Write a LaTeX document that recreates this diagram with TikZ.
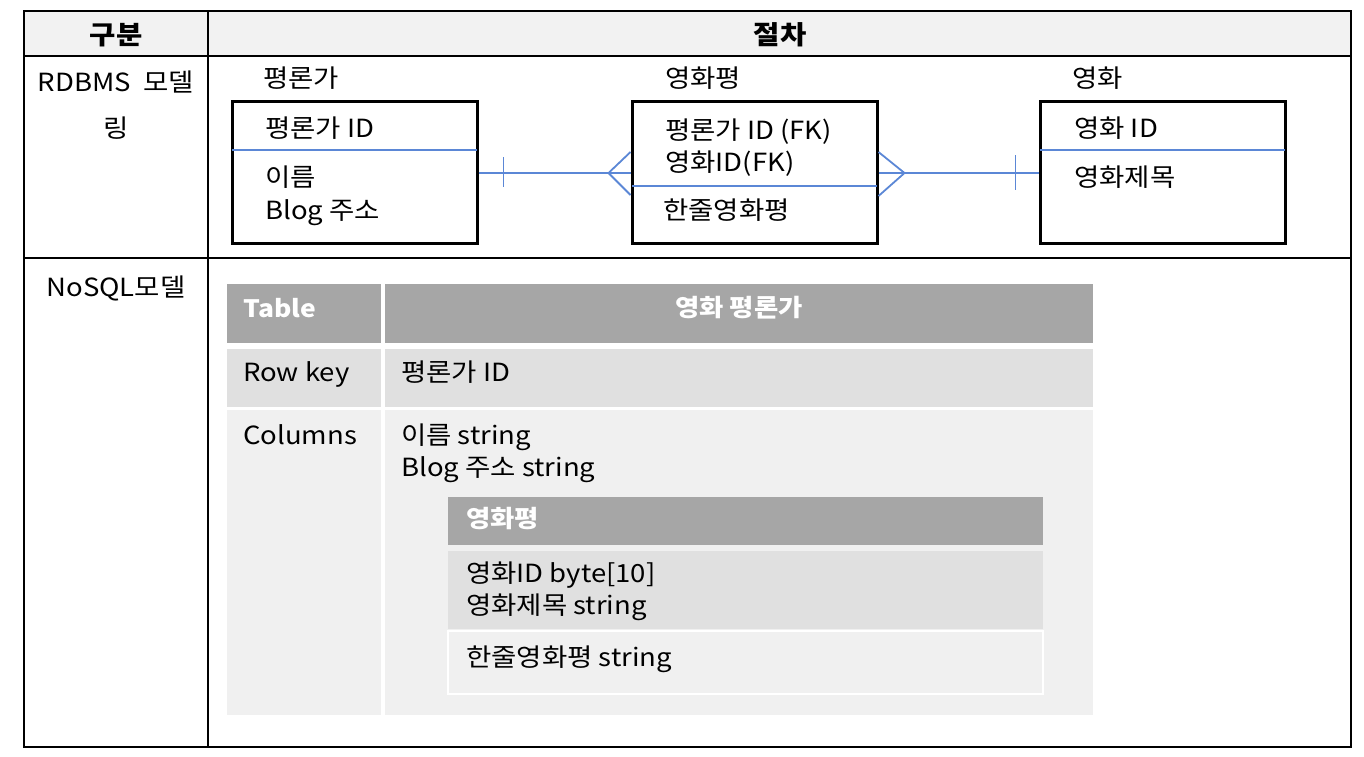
\documentclass[tikz,border=0pt]{standalone}
\usepackage{fontspec}
\setmainfont[FakeStretch=1.1]{Noto Sans CJK KR}
\usetikzlibrary{calc}
\definecolor{hdr}{HTML}{F2F2F2}
\definecolor{darkcell}{HTML}{A6A6A6}
\definecolor{midcell}{HTML}{E0E0E0}
\definecolor{litecell}{HTML}{F0F0F0}
\definecolor{erblue}{HTML}{5B87D6}
\begin{document}
\begin{tikzpicture}[x=1pt,y=-1pt,
  txt/.style={anchor=base west, inner sep=0pt, font=\fontsize{25}{30}\selectfont},
  ctxt/.style={anchor=base, inner sep=0pt, font=\fontsize{25}{30}\selectfont},
  hd/.style={anchor=base, inner sep=0pt, font=\fontsize{26}{30}\selectfont\bfseries},
  wh/.style={inner sep=0pt, text=white, font=\fontsize{24}{30}\selectfont\bfseries},
  erbox/.style={draw=black, line width=3pt, minimum width=245pt, minimum height=142pt, inner sep=0pt},
  rel/.style={draw=erblue, line width=1.8pt},
  grid/.style={draw=black, line width=2pt}]
\useasboundingbox (0,0) rectangle (1364,756);
\fill[white] (0,0) rectangle (1364,756);
% ---- outer table
\fill[hdr] (24,11) rectangle (1351,56);
\draw[grid] (24,11) rectangle (1351,747);
\draw[grid] (24,56) -- (1351,56);
\draw[grid] (24,258) -- (1351,258);
\draw[grid] (208,11) -- (208,747);
\node[hd] (h1) at (116,44) {구분};
\node[hd] (h2) at (780,44) {절차};
\node[ctxt] (r1a) at (116,91) {RDBMS\hspace{0.5em}모델};
\node[ctxt] (r1b) at (116,137) {링};
\node[ctxt] (r2) at (116,296) {NoSQL모델};
% ---- RDBMS model
\node[txt] (l1) at (263,87) {평론가};
\node[txt] (l2) at (665,87) {영화평};
\node[txt] (l3) at (1072,87) {영화};
\node[erbox] (b1) at (354.5,172) {};
\node[erbox] (b2) at (754.5,172.5) {};
\node[erbox] (b3) at (1162.5,172) {};
\draw[rel] (232,150) -- (477,150);
\draw[rel] (632,186) -- (877,186);
\draw[rel] (1040,150) -- (1285,150);
\node[txt] (t11) at (265,137) {평론가 ID};
\node[txt] (t12) at (265,186) {이름};
\node[txt] (t13) at (265,219) {Blog 주소};
\node[txt] (t21) at (665,139) {평론가 ID (FK)};
\node[txt] (t22) at (665,171) {영화ID(FK)};
\node[txt] (t23) at (663,219) {한줄영화평};
\node[txt] (t31) at (1074,137) {영화 ID};
\node[txt] (t32) at (1074,186) {영화제목};
% connectors
\draw[rel] (b1.east |- 0,173) -- (b2.west |- 0,173);
\draw[rel] ($(b1.east |- 0,173)+(25,-16)$) -- ($(b1.east |- 0,173)+(25,14)$);
\draw[rel] ($(b2.west |- 0,173)+(0,-21)$) -- ($(b2.west |- 0,173)+(-22,0)$) -- ($(b2.west |- 0,173)+(0,22)$);
\draw[rel] (b2.east |- 0,173) -- (b3.west |- 0,173);
\draw[rel] ($(b2.east |- 0,173)+(0,-21)$) -- ($(b2.east |- 0,173)+(26,0)$) -- ($(b2.east |- 0,173)+(0,23)$);
\draw[rel] ($(b3.west |- 0,173)+(-23,-18)$) -- ($(b3.west |- 0,173)+(-23,17)$);
% ---- NoSQL model
\fill[darkcell] (227,284) rectangle (381,343);
\fill[darkcell] (385,284) rectangle (1093,343);
\fill[midcell] (227,349) rectangle (381,407);
\fill[midcell] (385,349) rectangle (1093,407);
\fill[litecell] (227,410) rectangle (381,715);
\fill[litecell] (385,410) rectangle (1093,715);
\node[wh, anchor=base west] (n1) at (243,317) {Table};
\node[wh, anchor=base] (n2) at (739,316) {영화 평론가};
\node[txt] (n3) at (243,381) {Row key};
\node[txt] (n4) at (401,381) {평론가 ID};
\node[txt] (n5) at (243,444) {Columns};
\node[txt] (n6) at (401,444) {이름 string};
\node[txt] (n7) at (401,476) {Blog 주소 string};
\fill[darkcell] (448,497) rectangle (1043,545);
\fill[midcell] (448,551) rectangle (1043,629);
\draw[white, line width=1.5pt, fill=litecell] (448,631) rectangle (1043,694);
\node[wh, anchor=base west] (m1) at (466,527) {영화평};
\node[txt] (m2) at (466,582) {영화ID byte[10]};
\node[txt] (m3) at (466,614) {영화제목 string};
\node[txt] (m4) at (466,666) {한줄영화평 string};
\end{tikzpicture}
\end{document}
